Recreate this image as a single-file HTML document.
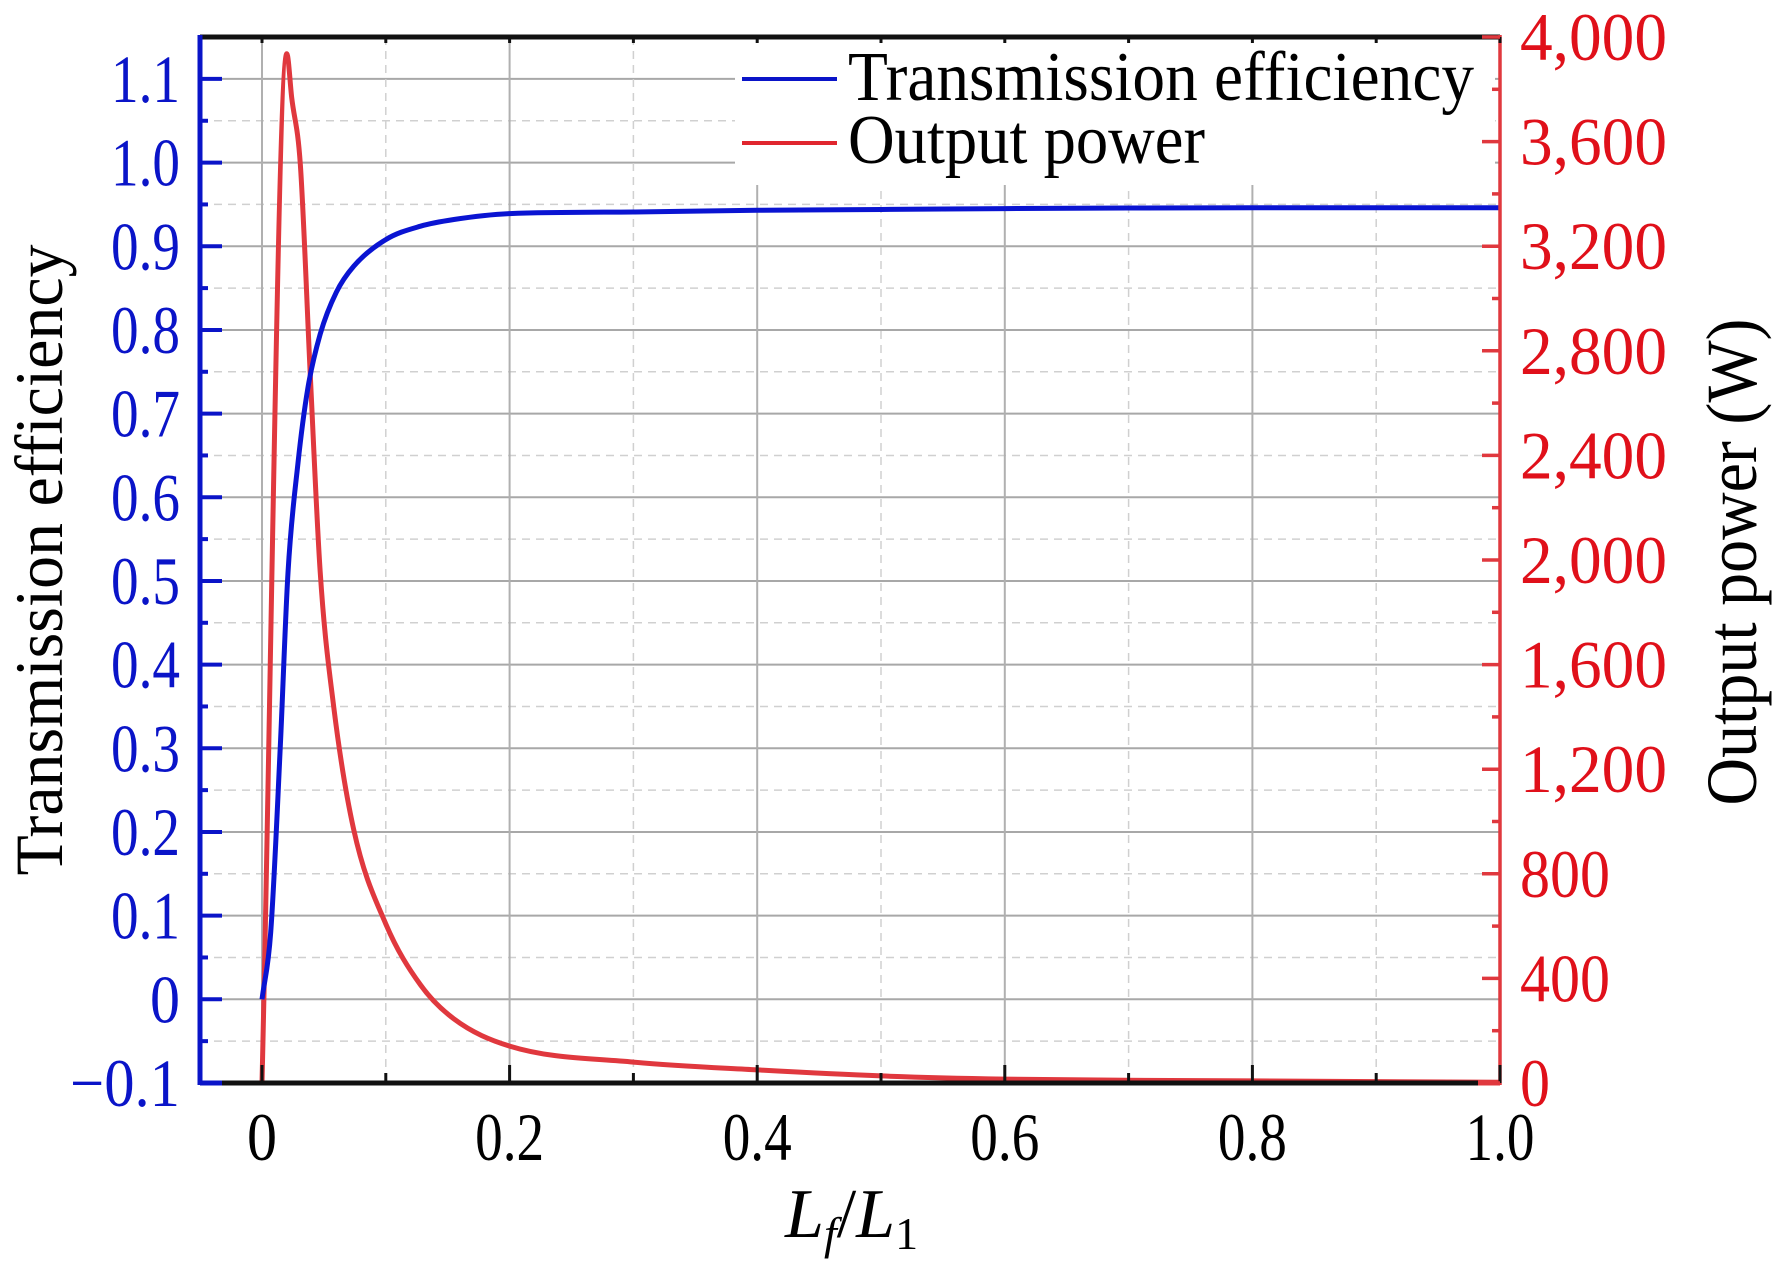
<!DOCTYPE html>
<html><head><meta charset="utf-8"><style>
html,body{margin:0;padding:0;background:#fff;}
svg{display:block;font-family:"Liberation Serif",serif;}
</style></head><body>
<svg id="chart" width="1772" height="1276" viewBox="0 0 1772 1276" xmlns="http://www.w3.org/2000/svg">
<rect width="1772" height="1276" fill="#fff"/>
<g id="grid"></g>
<g id="series"></g>
<g id="legend">
  <rect x="735" y="40" width="760" height="145" fill="#fff"/>
  <line x1="742" y1="79" x2="837" y2="79" stroke="#0a14c8" stroke-width="4"/>
  <text x="848" y="100" font-size="70" textLength="626" lengthAdjust="spacingAndGlyphs" fill="#000">Transmission efficiency</text>
  <line x1="742" y1="143" x2="837" y2="143" stroke="#e0262e" stroke-width="4"/>
  <text x="848" y="163" font-size="70" textLength="357" lengthAdjust="spacingAndGlyphs" fill="#000">Output power</text>
</g>
<g id="axes"></g>
<text transform="translate(62,560) rotate(-90)" text-anchor="middle" font-size="68" textLength="631" lengthAdjust="spacingAndGlyphs" fill="#000">Transmission efficiency</text>
<text transform="translate(1756,562) rotate(-90)" text-anchor="middle" font-size="72" textLength="487" lengthAdjust="spacingAndGlyphs" fill="#000">Output power (W)</text>
<text x="785" y="1237" font-size="70" fill="#000"><tspan font-style="italic">L</tspan><tspan font-style="italic" font-size="46" dy="12">f</tspan><tspan dy="-12">/</tspan><tspan font-style="italic">L</tspan><tspan font-size="46" dy="12">1</tspan></text>
</svg>
<script>
const xVals=[0,0.007,0.015,0.021,0.029,0.037,0.047,0.060,0.074,0.1,0.128,0.155,0.2,0.3,0.4,0.5,0.6,0.8,1.0];
const effVals=[0,0.08,0.31,0.51,0.64,0.73,0.795,0.845,0.876,0.908,0.924,0.932,0.939,0.941,0.943,0.944,0.945,0.946,0.946];
const pX=[0,0.020,0.024,0.031,0.039,0.047,0.058,0.074,0.1,0.128,0.155,0.2,0.3,0.4,0.5,0.6,0.8,1.0];
const pVals=[0,3936,3768,3509,2706,1954,1436,971,608,375,245,141,80,50,27,15,8,3];
const xTicks=[0,0.2,0.4,0.6,0.8,1.0];
const xTickLabels=["0","0.2","0.4","0.6","0.8","1.0"];
const leftTicks=[-0.1,0,0.1,0.2,0.3,0.4,0.5,0.6,0.7,0.8,0.9,1.0,1.1];
const leftTickLabels=["\u22120.1","0","0.1","0.2","0.3","0.4","0.5","0.6","0.7","0.8","0.9","1.0","1.1"];
const rightTicks=[0,400,800,1200,1600,2000,2400,2800,3200,3600,4000];
const rightTickLabels=["0","400","800","1,200","1,600","2,000","2,400","2,800","3,200","3,600","4,000"];

const NS="http://www.w3.org/2000/svg";
const PL=200,PR=1500,PT=37,PB=1083;
const sx=v=>262+v*1238;
const syL=v=>999.3-v*836.7;
const syR=v=>PB-v*(PB-PT)/4000;
function mk(tag,attrs,parent){const e=document.createElementNS(NS,tag);for(const k in attrs)e.setAttribute(k,attrs[k]);parent.appendChild(e);return e;}
const gridG=document.getElementById('grid'),axesG=document.getElementById('axes'),seriesG=document.getElementById('series');

for(let i=-1;i<=11;i++){
  const y=syL(i/10);
  const g=mk('line',{x1:PL,x2:PR,y1:y,y2:y,stroke:'#a8a8a8','stroke-width':2},gridG);
  
  
  if(i<11){const ym=syL(i/10+0.05);
    const d=mk('line',{x1:PL,x2:PR,y1:ym,y2:ym,stroke:'#d0d0d0','stroke-width':1.5,'stroke-dasharray':'8,6'},gridG);
    
    }
}
for(let i=0;i<=10;i++){
  const x=sx(i/10);
  const v=mk('line',{x1:x,x2:x,y1:PT,y2:PB,stroke:i%2?'#d0d0d0':'#b0b0b0','stroke-width':i%2?1.5:2,'stroke-dasharray':i%2?'8,6':'none'},gridG);
  
  
}
// monotone cubic path (Fritsch-Carlson) in pixel space
function pathFrom(xs,ys,fy){
  const P=xs.map((x,i)=>[sx(x),fy(ys[i])]);const n=P.length;
  const d=[],m=new Array(n);
  for(let i=0;i<n-1;i++)d.push((P[i+1][1]-P[i][1])/(P[i+1][0]-P[i][0]));
  m[0]=d[0];m[n-1]=d[n-2];
  for(let i=1;i<n-1;i++){m[i]=(d[i-1]*d[i]<=0)?0:(d[i-1]+d[i])/2;}
  for(let i=0;i<n-1;i++){
    if(d[i]===0){m[i]=0;m[i+1]=0;continue;}
    const a=m[i]/d[i],b=m[i+1]/d[i],s=a*a+b*b;
    if(s>9){const t=3/Math.sqrt(s);m[i]=t*a*d[i];m[i+1]=t*b*d[i];}
  }
  let s='M'+P[0][0].toFixed(1)+','+P[0][1].toFixed(1);
  for(let i=0;i<n-1;i++){
    const h=(P[i+1][0]-P[i][0])/3;
    s+=' C'+(P[i][0]+h).toFixed(1)+','+(P[i][1]+m[i]*h).toFixed(1)+' '+(P[i+1][0]-h).toFixed(1)+','+(P[i+1][1]-m[i+1]*h).toFixed(1)+' '+P[i+1][0].toFixed(1)+','+P[i+1][1].toFixed(1);
  }
  return s;
}
const pr=mk('path',{d:pathFrom(pX,pVals,syR),fill:'none',stroke:'#e0383e','stroke-width':5,'stroke-linejoin':'round'},seriesG);


const eb=mk('path',{d:pathFrom(xVals,effVals,syL),fill:'none',stroke:'#0a14d2','stroke-width':5,'stroke-linejoin':'round'},seriesG);



const topAxis=mk('line',{x1:PL,x2:PR,y1:PT,y2:PT,stroke:'#111','stroke-width':5},axesG);


const botAxis=mk('line',{x1:PL,x2:PR,y1:PB,y2:PB,stroke:'#111','stroke-width':5},axesG);


const la=mk('line',{x1:PL,x2:PL,y1:PT-2,y2:PB+2,stroke:'#0a14c8','stroke-width':5},axesG);


mk('line',{x1:PL,x2:PL+22,y1:PB,y2:PB,stroke:'#0a14c8','stroke-width':5},axesG);
const ra=mk('line',{x1:PR,x2:PR,y1:PT-2,y2:PB+2,stroke:'#e0383e','stroke-width':3.5},axesG);


mk('line',{x1:PR-22,x2:PR,y1:PB,y2:PB,stroke:'#e0383e','stroke-width':5},axesG);

for(let i=0;i<=10;i++){const x=sx(i/10);const len=i%2?10:18;
  mk('line',{x1:x,x2:x,y1:PB,y2:PB-len,stroke:'#111','stroke-width':3},axesG);
  mk('line',{x1:x,x2:x,y1:PT,y2:PT+6,stroke:'#111','stroke-width':3},axesG);}
xTicks.forEach((v,i)=>{
  const t=mk('text',{x:sx(v),y:1160,'text-anchor':'middle','font-size':68,fill:'#000',textLength:xTickLabels[i].length>1?69:30,lengthAdjust:'spacingAndGlyphs'},axesG);
  t.textContent=xTickLabels[i];
  
  
});
for(let i=-2;i<=22;i++){const y=syL(i/20);if(y<PT)continue;const len=i%2?8:22;
  mk('line',{x1:PL,x2:PL+len,y1:y,y2:y,stroke:'#0a14c8','stroke-width':4},axesG);}
leftTicks.forEach((v,i)=>{
  const s=leftTickLabels[i];
  const w=s.length===1?30:(s.length===3?69:110);
  const t=mk('text',{x:180,y:syL(v)+23,'text-anchor':'end','font-size':68,fill:'#0a14c8',textLength:w,lengthAdjust:'spacingAndGlyphs'},axesG);
  t.textContent=s;
  
  
});
for(let v=0;v<=4000;v+=200){const y=syR(v);const len=(v%400)?8:18;
  mk('line',{x1:PR,x2:PR-len,y1:y,y2:y,stroke:'#e0383e','stroke-width':3.5},axesG);}
rightTicks.forEach((v,i)=>{
  const s=rightTickLabels[i];
  const w=s.length===1?30:(s.length===3?90:147);
  const t=mk('text',{x:1520,y:syR(v)+23,'font-size':68,fill:'#e0101a',textLength:w,lengthAdjust:'spacingAndGlyphs'},axesG);
  t.textContent=s;
  
  
});
</script>
</body></html>
